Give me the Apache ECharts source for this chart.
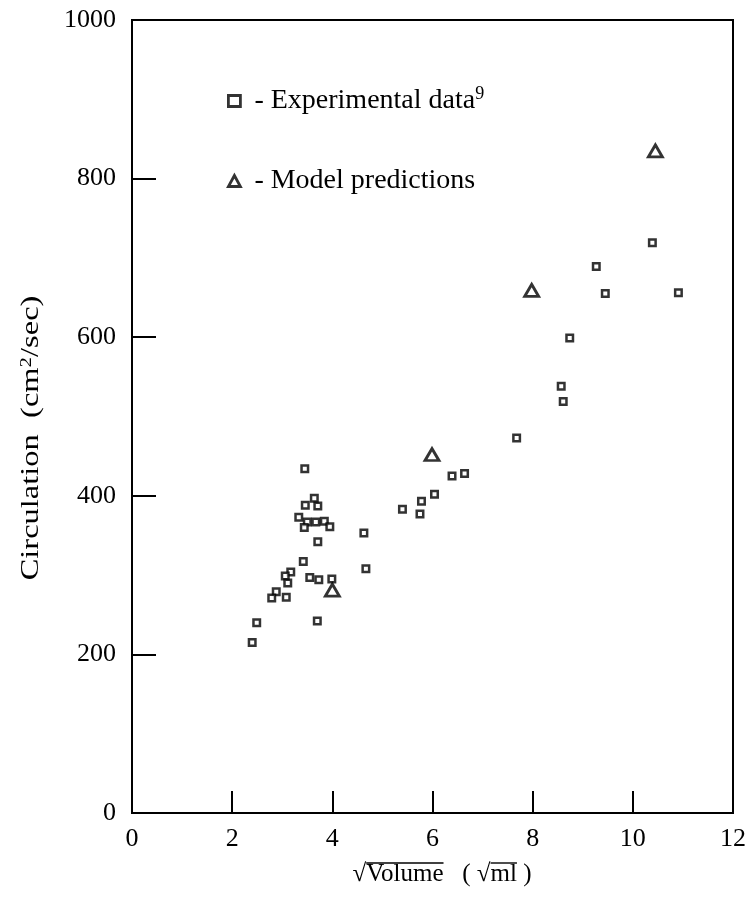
<!DOCTYPE html>
<html>
<head>
<meta charset="utf-8">
<script src="https://cdn.jsdelivr.net/npm/echarts@6/dist/echarts.min.js"></script>
<style>
  html, body { margin: 0; padding: 0; background: #fff; }
  #chart { width: 754px; height: 897px; }
</style>
</head>
<body>
<div id="chart"></div>
<script>
// experimental data (sqrt volume, circulation)
var expX = [3.45, 3.64, 3.46, 3.71, 3.33, 3.50, 3.67, 3.84, 3.44, 3.95,
            4.63, 3.71, 3.42, 4.67, 3.17, 3.06, 3.55, 3.73, 3.99, 3.11,
            2.88, 2.79, 3.08, 2.49, 3.70, 2.40, 6.39, 6.64, 6.04, 5.78,
            5.40, 5.75, 7.68, 10.39, 9.27, 9.45, 10.91, 8.74, 8.57, 8.61];
var expY = [434, 397, 388, 387, 373, 367, 367, 368, 360, 361,
            353, 342, 317, 308, 304, 299, 297, 294, 295, 290,
            279, 271, 272, 240, 242, 215, 425, 428, 402, 393,
            383, 377, 473, 719, 689, 655, 656, 599, 538, 519];
// model predictions
var modelX = [4.00, 5.99, 7.98, 10.45];
var modelY = [281, 452, 659, 835];

var xTicks = [0, 2, 4, 6, 8, 10, 12];
var yTicks = [0, 200, 400, 600, 800, 1000];

function pairs(xs, ys) {
  return xs.map(function (x, i) { return [x, ys[i]]; });
}

var serif = 'Liberation Serif';
var gridL = 132, gridR = 21, gridT = 20, gridB = 84;

// x axis title pieces, overlines drawn over the radicands
var xNameParts = ['\u221A', 'Volume', '   ( \u221A', 'ml', ' )'];
var xNameSize = 25;
var xNameCx = 442, xNameTop = 862;
var ctx = document.createElement('canvas').getContext('2d');
ctx.font = xNameSize + 'px "' + serif + '"';
function tw(s) { return ctx.measureText(s).width; }
var x0 = xNameCx - tw(xNameParts.join('')) / 2;
var ovY = xNameTop + 1;
var ov1a = x0 + tw(xNameParts[0]);
var ov1b = ov1a + tw(xNameParts[1]);
var ov2a = x0 + tw(xNameParts.slice(0, 3).join(''));
var ov2b = ov2a + tw(xNameParts[3]);

var chart = echarts.init(document.getElementById('chart'));

chart.setOption({
  animation: false,
  backgroundColor: '#fff',
  grid: {
    left: gridL, right: gridR, top: gridT, bottom: gridB,
    show: true,
    borderColor: '#000',
    borderWidth: 2
  },
  legend: {
    orient: 'vertical',
    left: 222,
    top: 80,
    itemGap: 48,
    itemWidth: 12,
    itemHeight: 11,
    itemStyle: { borderWidth: 2.8 },
    textStyle: {
      fontFamily: serif,
      fontSize: 28,
      lineHeight: 32,
      color: '#000',
      rich: {
        g: { width: 9 },
        sup: { fontFamily: serif, fontSize: 18, color: '#000', lineHeight: 18, verticalAlign: 'top' }
      }
    },
    formatter: function (name) {
      if (name === 'exp') return '{g|}- Experimental data{sup|9}';
      return '{g|}- Model predictions';
    },
    data: ['exp', 'model']
  },
  xAxis: {
    type: 'value',
    min: xTicks[0],
    max: xTicks[xTicks.length - 1],
    interval: 2,
    splitLine: { show: false },
    axisLine: { lineStyle: { color: '#000', width: 2 } },
    axisTick: { inside: true, length: 22, lineStyle: { color: '#000', width: 2 } },
    axisLabel: { fontFamily: serif, fontSize: 26, color: '#000', margin: 13 }
  },
  yAxis: {
    type: 'value',
    min: yTicks[0],
    max: yTicks[yTicks.length - 1],
    interval: 200,
    splitLine: { show: false },
    axisLine: { lineStyle: { color: '#000', width: 2 } },
    axisTick: { inside: true, length: 24, lineStyle: { color: '#000', width: 2 } },
    axisLabel: {
      fontFamily: serif, fontSize: 26, color: '#000', margin: 16,
      formatter: function (v) { return String(v); }
    }
  },
  graphic: [
    {
      // y axis title, stretched along its length like the scan
      type: 'text',
      x: 31,
      y: 438,
      rotation: Math.PI / 2,
      scaleX: 1.3,
      style: {
        text: 'Circulation  (cm{sup|2}/sec)',
        font: '25px "' + serif + '"',
        fill: '#000',
        align: 'center',
        verticalAlign: 'middle',
        rich: { sup: { fontFamily: serif, fontSize: 16, fill: '#000', lineHeight: 16, verticalAlign: 'top' } }
      }
    },
    {
      type: 'text',
      x: xNameCx,
      y: xNameTop,
      style: {
        text: xNameParts.join(''),
        font: xNameSize + 'px "' + serif + '"',
        fill: '#000',
        align: 'center',
        verticalAlign: 'top'
      }
    },
    {
      type: 'line',
      shape: { x1: ov1a, y1: ovY, x2: ov1b, y2: ovY },
      style: { stroke: '#000', lineWidth: 1.4 }
    },
    {
      type: 'line',
      shape: { x1: ov2a, y1: ovY, x2: ov2b, y2: ovY },
      style: { stroke: '#000', lineWidth: 1.4 }
    }
  ],
  series: [
    {
      name: 'exp',
      type: 'scatter',
      symbol: 'rect',
      symbolSize: 6.5,
      itemStyle: { color: '#fff', borderColor: '#000', borderWidth: 2.5 },
      data: pairs(expX, expY)
    },
    {
      name: 'model',
      type: 'scatter',
      symbol: 'triangle',
      symbolSize: [14, 12],
      itemStyle: { color: '#fff', borderColor: '#000', borderWidth: 2.8 },
      data: pairs(modelX, modelY)
    }
  ]
});
</script>
</body>
</html>
